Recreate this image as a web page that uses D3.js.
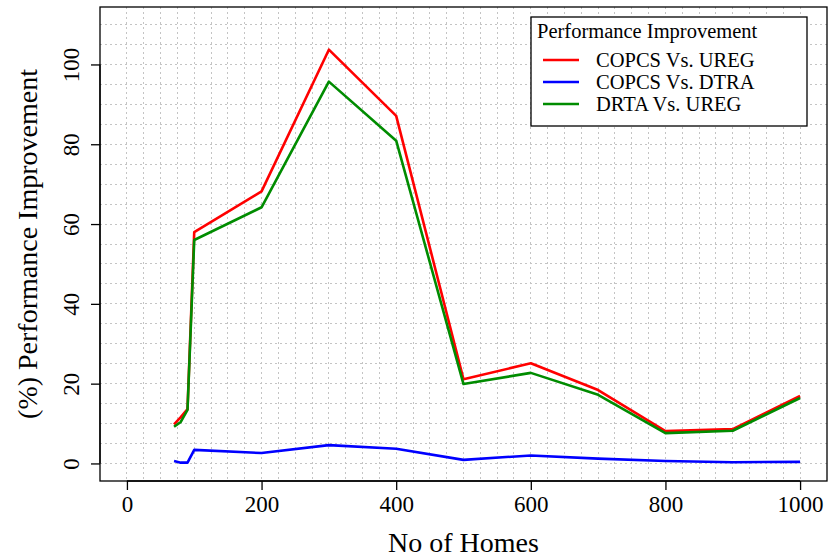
<!DOCTYPE html>
<html>
<head>
<meta charset="utf-8">
<script src="https://cdn.jsdelivr.net/npm/d3@7"></script>
<style>
  body { margin: 0; background: #fff; }
  svg text { font-family: "Liberation Serif", "DejaVu Serif", serif; fill: #000; }
</style>
</head>
<body>
<div id="chart"></div>
<script>
// data
var homes = [70, 80, 90, 100, 200, 300, 400, 500, 600, 700, 800, 900, 1000];
var copcsVsUreg = [9.8, 11.6, 13.6, 58.0, 68.2, 103.7, 87.1, 21.1, 25.1, 18.4, 8.1, 8.6, 16.9];
var copcsVsDtra = [0.6, 0.2, 0.2, 3.4, 2.6, 4.6, 3.7, 0.9, 2.0, 1.2, 0.6, 0.3, 0.4];
var drtaVsUreg = [9.2, 10.4, 13.4, 56.0, 64.2, 95.7, 80.9, 19.9, 22.7, 17.2, 7.6, 8.2, 16.4];
var seriesNames = ["COPCS Vs. UREG", "COPCS Vs. DTRA", "DRTA Vs. UREG"];
var seriesColors = ["#ff0000", "#0000ff", "#008c00"];
var xTicks = [0, 200, 400, 600, 800, 1000];
var yTicks = [0, 20, 40, 60, 80, 100];

(function(){
  var w = 828, h = 559;
  var pl = 100, pr = 827, pt = 7, pb = 481;

  var x = d3.scaleLinear().domain([-40, 1040]).range([pl, pr]);
  var y = d3.scaleLinear().domain([-4.4, 114.4]).range([pb, pt]);

  var svg = d3.select("#chart").append("svg")
    .attr("width", w)
    .attr("height", h);

  // dotted grid
  var grid = svg.append("g")
    .attr("stroke", "#c4c4c4")
    .attr("stroke-width", 1)
    .attr("stroke-dasharray", "2,3")
    .attr("shape-rendering", "crispEdges");
  grid.selectAll("line.v")
    .data(d3.range(0, 1001, 25))
    .enter().append("line")
    .attr("class", "v")
    .attr("x1", function(d){ return x(d); }).attr("x2", function(d){ return x(d); })
    .attr("y1", pt).attr("y2", pb);
  grid.selectAll("line.h")
    .data(d3.range(0, 111, 5))
    .enter().append("line")
    .attr("class", "h")
    .attr("x1", pl).attr("x2", pr)
    .attr("y1", function(d){ return y(d); }).attr("y2", function(d){ return y(d); });

  // lines
  var line = d3.line()
    .x(function(d){ return x(d[0]); })
    .y(function(d){ return y(d[1]); });

  var allSeries = [copcsVsUreg, copcsVsDtra, drtaVsUreg];
  allSeries.forEach(function(vals, i){
    svg.append("path")
      .datum(homes.map(function(hh, k){ return [hh, vals[k]]; }))
      .attr("d", line)
      .attr("fill", "none")
      .attr("stroke", seriesColors[i])
      .attr("stroke-width", 2.6)
      .attr("stroke-linejoin", "round");
  });

  // box
  svg.append("rect")
    .attr("x", pl).attr("y", pt)
    .attr("width", pr - pl).attr("height", pb - pt)
    .attr("fill", "none").attr("stroke", "#000").attr("stroke-width", 1.3);

  // axes
  var xAxis = d3.axisBottom(x).tickValues(xTicks).tickSize(9).tickPadding(6).tickFormat(d3.format("d"));
  var gx = svg.append("g").attr("transform", "translate(0," + pb + ")").call(xAxis);
  gx.select(".domain").attr("d", "M" + x(0) + ",0H" + x(1000)).attr("stroke-width", 1.3);
  gx.selectAll(".tick line").attr("stroke-width", 1.3);
  gx.selectAll("text").style("font-family", "Liberation Serif").style("font-size", "23px");

  var yAxis = d3.axisLeft(y).tickValues(yTicks).tickSize(9).tickFormat(d3.format("d"));
  var gy = svg.append("g").attr("transform", "translate(" + pl + ",0)").call(yAxis);
  gy.select(".domain").attr("d", "M0," + y(0) + "V" + y(100)).attr("stroke-width", 1.3);
  gy.selectAll(".tick line").attr("stroke-width", 1.3);
  gy.selectAll("text")
    .style("font-family", "Liberation Serif").style("font-size", "23px")
    .attr("x", 0).attr("dy", 0)
    .attr("text-anchor", "middle")
    .attr("transform", "translate(-21,0) rotate(-90)");

  // axis titles
  svg.append("text")
    .attr("x", (pl + pr) / 2).attr("y", 552)
    .attr("text-anchor", "middle")
    .style("font-size", "28px")
    .text("No of Homes");
  svg.append("text")
    .attr("transform", "translate(37," + ((pt + pb) / 2) + ") rotate(-90)")
    .attr("text-anchor", "middle")
    .style("font-size", "28px")
    .text("(%) Performance Improvement");

  // legend
  var lg = svg.append("g");
  lg.append("rect")
    .attr("x", 531).attr("y", 17)
    .attr("width", 276).attr("height", 109)
    .attr("fill", "#fff").attr("stroke", "#000").attr("stroke-width", 1.3);
  lg.append("text")
    .attr("x", 537).attr("y", 38)
    .style("font-size", "20.5px")
    .text("Performance Improvement");
  seriesNames.forEach(function(name, i){
    var yy = 60 + i * 22;
    lg.append("line")
      .attr("x1", 543).attr("x2", 579)
      .attr("y1", yy).attr("y2", yy)
      .attr("stroke", seriesColors[i]).attr("stroke-width", 2.6);
    lg.append("text")
      .attr("x", 596).attr("y", yy + 7)
      .style("font-size", "20.5px")
      .text(name);
  });
})();
</script>
</body>
</html>
